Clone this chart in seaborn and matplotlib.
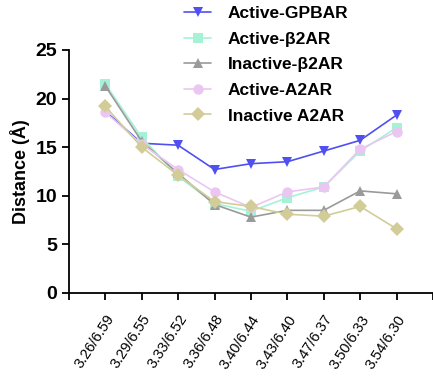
import pandas as pd
import matplotlib.pyplot as plt
import seaborn as sns

# residue pairs along the helix
pairs = ['3.26/6.59', '3.29/6.55', '3.33/6.52', '3.36/6.48', '3.40/6.44',
         '3.43/6.40', '3.47/6.37', '3.50/6.33', '3.54/6.30']

active_gpbar = [18.7, 15.4, 15.2, 12.7, 13.3, 13.5, 14.6, 15.7, 18.3]
active_b2ar = [21.5, 16.0, 12.0, 9.2, 8.4, 9.8, 10.9, 14.6, 17.0]
inactive_b2ar = [21.3, 15.6, 12.3, 9.1, 7.8, 8.5, 8.5, 10.5, 10.2]
active_a2ar = [18.6, 15.3, 12.7, 10.4, 8.8, 10.4, 10.9, 14.8, 16.6]
inactive_a2ar = [19.2, 15.0, 12.1, 9.4, 8.9, 8.1, 7.9, 8.9, 6.6]

names = ['Active-GPBAR', 'Active-β2AR', 'Inactive-β2AR', 'Active-A2AR', 'Inactive A2AR']
series = [active_gpbar, active_b2ar, inactive_b2ar, active_a2ar, inactive_a2ar]

rows = []
for name, vals in zip(names, series):
    for i, v in enumerate(vals):
        rows.append({'pos': i, 'pair': pairs[i], 'Distance': v, 'System': name})
df = pd.DataFrame(rows)

colors = {'Active-GPBAR': '#5050f0', 'Active-β2AR': '#a6f2d6', 'Inactive-β2AR': '#9a9a9a',
          'Active-A2AR': '#ebc6f2', 'Inactive A2AR': '#d2cd98'}
markers = {'Active-GPBAR': 'v', 'Active-β2AR': 's', 'Inactive-β2AR': '^',
           'Active-A2AR': 'o', 'Inactive A2AR': 'D'}

sns.set_style('ticks')
plt.rcParams['font.family'] = ['Liberation Sans', 'DejaVu Sans']
plt.rcParams['text.color'] = 'black'
plt.rcParams['axes.labelcolor'] = 'black'
plt.rcParams['xtick.color'] = 'black'
plt.rcParams['ytick.color'] = 'black'

fig = plt.figure(figsize=(4.33, 3.81), dpi=100)
ax = fig.add_axes([0.159, 0.231, 0.841, 0.638])

sns.lineplot(data=df, x='pos', y='Distance', hue='System', style='System',
             palette=colors, markers=markers, dashes=False, markersize=7.5,
             markeredgewidth=0, linewidth=1.2, ax=ax)

ax.set_xlim(-1, 9)
ax.set_ylim(0, 25)
ax.set_xticks(range(-1, 10))
ax.set_xticklabels([''] + pairs + [''], rotation=57, ha='right',
                   rotation_mode='anchor', fontsize=10.5)
ax.set_yticks([0, 5, 10, 15, 20, 25])
ax.set_yticklabels(['0', '5', '10', '15', '20', '25'], fontsize=14, fontweight='bold')
ax.set_xlabel('')
ax.set_ylabel('Distance (Å)', fontsize=13, fontweight='bold')
ax.tick_params(length=5, width=1.3, color='black')
ax.tick_params(axis='x', pad=9)
for s in ['left', 'bottom']:
    ax.spines[s].set_linewidth(1.3)
    ax.spines[s].set_color('black')
sns.despine(ax=ax)

handles, labels = ax.get_legend_handles_labels()
ax.get_legend().remove()
fig.legend(handles, labels, loc='upper left', bbox_to_anchor=(0.39, 1.025),
           frameon=False, prop={'weight': 'bold', 'size': 12.5},
           handlelength=1.5, handletextpad=1.0, labelspacing=0.6)

fig.savefig('out.png', dpi=100)
